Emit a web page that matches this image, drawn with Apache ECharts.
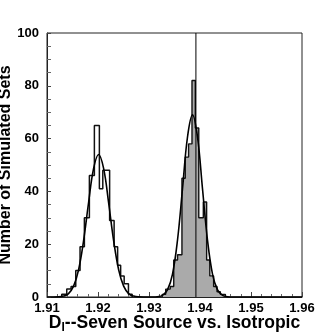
<!DOCTYPE html>
<html>
<head>
<meta charset="utf-8">
<script src="https://cdn.jsdelivr.net/npm/echarts@6/dist/echarts.min.js"></script>
<style>
html, body { margin: 0; padding: 0; background: #fff; }
#chart { width: 335px; height: 335px; }
</style>
</head>
<body>
<div id="chart"></div>
<script>
// histogram bin edges + counts
var leftEdges = [1.91289, 1.91387, 1.91472, 1.91564, 1.91648, 1.91733, 1.91831, 1.91929, 1.92027, 1.92094,
                 1.92228, 1.92316, 1.92385, 1.92444, 1.92513, 1.92597, 1.92670];
var leftCounts = [1, 3, 4, 10, 19, 30, 46, 65, 41, 48, 29, 19, 12, 8, 5, 1];

var rightEdges = [1.93259, 1.93328, 1.93416, 1.93485, 1.93560, 1.93646, 1.93711, 1.93776, 1.93843, 1.93908,
                  1.93976, 1.94065, 1.94130, 1.94192, 1.94267, 1.94334, 1.94399, 1.94497];
var rightCounts = [1, 3, 4, 14, 16, 45, 53, 58, 82, 64, 30, 36, 14, 8, 4, 2, 1];

// fitted curves
var leftFitX = [1.91000, 1.91226, 1.91324, 1.91422, 1.91521, 1.91619, 1.91717, 1.91815, 1.91914, 1.92012,
                1.92110, 1.92208, 1.92307, 1.92405, 1.92503, 1.92601, 1.92700, 1.92798, 1.93000];
var leftFitY = [0, 0.07, 0.34, 1.3, 4.1, 10.3, 21.3, 35.7, 48.7, 54, 48.7, 35.7, 21.3, 10.3, 4.1, 1.3, 0.34, 0.07, 0];

var rightFitX = [1.93000, 1.93067, 1.93166, 1.93264, 1.93362, 1.93460, 1.93558, 1.93657, 1.93755, 1.93853,
                 1.93951, 1.94049, 1.94148, 1.94246, 1.94344, 1.94442, 1.94540, 1.94639, 1.96000];
var rightFitY = [0, 0, 0.12, 0.64, 2.7, 8.6, 21.4, 41, 60.6, 69, 60.6, 41, 21.4, 8.6, 2.7, 0.64, 0.12, 0, 0];

var trueValue = 1.9392;
var xTicks = [1.91, 1.92, 1.93, 1.94, 1.95, 1.96];
var yTicks = [0, 20, 40, 60, 80, 100];

function stepData(edges, counts) {
    var pts = [[edges[0], 0]];
    for (var i = 0; i < counts.length; i++) pts.push([edges[i], counts[i]]);
    pts.push([edges[edges.length - 1], 0]);
    return pts;
}
function zip(xs, ys) {
    return xs.map(function (x, i) { return [x, ys[i]]; });
}

var font = "'Liberation Sans', Arial, Helvetica, sans-serif";
var chart = echarts.init(document.getElementById('chart'));

chart.setOption({
    animation: false,
    grid: {
        left: 47, right: 33, top: 33, bottom: 38,
        outerBoundsMode: 'none', containLabel: false,
        show: true, borderColor: '#222', borderWidth: 1
    },
    xAxis: {
        type: 'value',
        min: xTicks[0], max: xTicks[xTicks.length - 1], interval: 0.01,
        name: '{a|D}{b|I}{a|--Seven Source vs. Isotropic}',
        nameLocation: 'middle', nameGap: 16, nameMoveOverlap: false,
        nameTextStyle: {
            rich: {
                a: { fontFamily: font, fontWeight: 'bold', fontSize: 17.5, color: '#000' },
                b: { fontFamily: font, fontWeight: 'bold', fontSize: 12, color: '#000', padding: [9, 0, 0, 0] }
            }
        },
        axisLine: { lineStyle: { color: '#222' } },
        axisTick: { inside: true, length: 5, lineStyle: { color: '#444' } },
        minorTick: { show: true, splitNumber: 5, length: 3, lineStyle: { color: '#666' } },
        splitLine: { show: false },
        axisLabel: {
            margin: 5, color: '#000', fontFamily: font, fontWeight: 'bold', fontSize: 13,
            formatter: function (v) { return v.toFixed(2); }
        }
    },
    yAxis: {
        type: 'value',
        min: yTicks[0], max: yTicks[yTicks.length - 1], interval: 20,
        name: 'Number of Simulated Sets',
        nameLocation: 'middle', nameGap: 33, nameMoveOverlap: false,
        nameTextStyle: { fontFamily: font, fontWeight: 'bold', fontSize: 16, color: '#000' },
        axisLine: { lineStyle: { color: '#222' } },
        axisTick: { inside: true, length: 4, lineStyle: { color: '#444' } },
        minorTick: { show: true, splitNumber: 4, length: 4, lineStyle: { color: '#666' } },
        splitLine: { show: false },
        axisLabel: { margin: 8, color: '#000', fontFamily: font, fontWeight: 'bold', fontSize: 13 }
    },
    series: [
        {
            type: 'line', step: 'end', showSymbol: false,
            data: stepData(rightEdges, rightCounts),
            lineStyle: { color: '#111', width: 1.4 },
            areaStyle: { color: '#aaaaaa', opacity: 1 }
        },
        {
            type: 'line', showSymbol: false,
            data: [[trueValue, yTicks[0]], [trueValue, yTicks[yTicks.length - 1]]],
            lineStyle: { color: '#000', width: 1 }
        },
        {
            type: 'line', step: 'end', showSymbol: false,
            data: stepData(leftEdges, leftCounts),
            lineStyle: { color: '#111', width: 1.5 }
        },
        {
            type: 'line', smooth: 0.4, showSymbol: false,
            data: zip(leftFitX, leftFitY),
            lineStyle: { color: '#000', width: 1.6 }
        },
        {
            type: 'line', smooth: 0.4, showSymbol: false,
            data: zip(rightFitX, rightFitY),
            lineStyle: { color: '#000', width: 1.6 }
        }
    ]
});
</script>
</body>
</html>
